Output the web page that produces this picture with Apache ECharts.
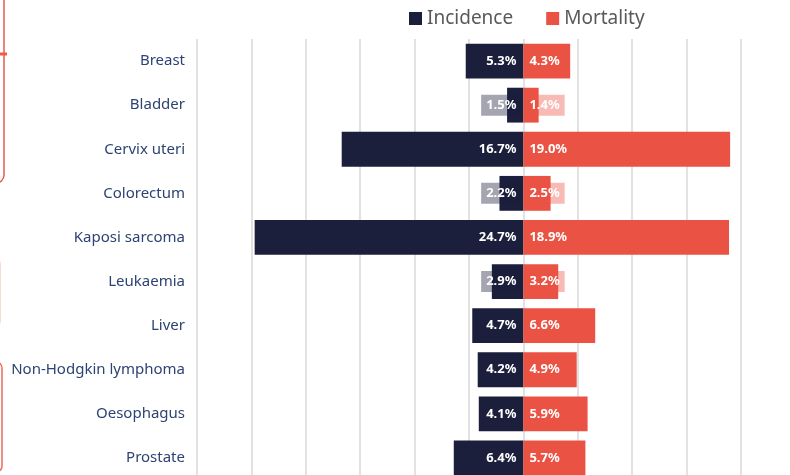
<!DOCTYPE html>
<html>
<head>
<meta charset="utf-8">
<script src="https://cdn.jsdelivr.net/npm/echarts@6/dist/echarts.min.js"></script>
<style>
  html, body { margin: 0; padding: 0; background: #fff; overflow: hidden; }
  /* 图表下方在原图中被裁切, 容器比窗口略高 */
  #chart { width: 790px; height: 480px; }
</style>
</head>
<body>
<div id="chart"></div>
<script>
// 癌症类别
const categories = ['Breast', 'Bladder', 'Cervix uteri', 'Colorectum', 'Kaposi sarcoma',
  'Leukaemia', 'Liver', 'Non-Hodgkin lymphoma', 'Oesophagus', 'Prostate']
// 发病率 / 死亡率 (%)
const incidence = [5.3, 1.5, 16.7, 2.2, 24.7, 2.9, 4.7, 4.2, 4.1, 6.4]
const mortality = [4.3, 1.4, 19.0, 2.5, 18.9, 3.2, 6.6, 4.9, 5.9, 5.7]
const seriesNames = ['Incidence', 'Mortality']

const navy = '#1b1f3b'
const red = '#ea5243'
const font = 'Noto Sans'

// 数值太小时标签放在半透明底框里
const boxed = v => v < 4

const chart = echarts.init(document.getElementById('chart'))
chart.setOption({
  animation: false,
  textStyle: { fontFamily: font },
  legend: {
    data: seriesNames,
    left: 404,
    top: 4,
    icon: 'rect',
    itemWidth: 13,
    itemHeight: 13,
    itemGap: 33,
    textStyle: { fontSize: 19, color: '#595959', fontFamily: font }
  },
  grid: { left: 197, right: 49, top: 39, bottom: 0 },
  xAxis: {
    type: 'value',
    min: -30,
    max: 20,
    interval: 5,
    axisLabel: { show: false },
    axisLine: { show: false },
    axisTick: { show: false },
    splitLine: { lineStyle: { color: '#d9d9d9', width: 1.5 } }
  },
  yAxis: {
    type: 'category',
    data: categories,
    inverse: true,
    axisLine: { show: false },
    axisTick: { show: false },
    axisLabel: { fontSize: 15, color: '#2d4374', margin: 12, fontFamily: font }
  },
  series: [
    {
      name: 'Incidence',
      type: 'bar',
      stack: 'all',
      barWidth: '79%',
      itemStyle: { color: navy },
      data: incidence.map(v => ({
        value: -v,
        label: { backgroundColor: boxed(v) ? 'rgba(27,31,59,0.4)' : 'transparent' }
      })),
      label: {
        show: true,
        position: 'insideRight',
        distance: 2,
        padding: [4, 5, 4, 5],
        color: '#fff',
        fontSize: 13,
        fontWeight: 'bold',
        fontFamily: font,
        formatter: p => (-p.value).toFixed(1) + '%'
      }
    },
    {
      name: 'Mortality',
      type: 'bar',
      stack: 'all',
      barWidth: '79%',
      itemStyle: { color: red },
      data: mortality.map(v => ({
        value: v,
        label: { backgroundColor: boxed(v) ? 'rgba(234,82,67,0.4)' : 'transparent' }
      })),
      label: {
        show: true,
        position: 'insideLeft',
        distance: 1,
        padding: [4, 5, 4, 5],
        color: '#fff',
        fontSize: 13,
        fontWeight: 'bold',
        fontFamily: font,
        formatter: p => p.value.toFixed(1) + '%'
      }
    }
  ],
  // 左侧被裁切的装饰框
  graphic: [
    { type: 'rect', shape: { x: -200, y: -20, width: 204, height: 203, r: 8 },
      style: { fill: 'none', stroke: '#ec5a4b', lineWidth: 1.5 } },
    { type: 'line', shape: { x1: 0, y1: 54, x2: 7, y2: 54 },
      style: { stroke: '#ec5a4b', lineWidth: 3 } },
    { type: 'rect', shape: { x: -200, y: 258, width: 200, height: 69, r: 6 },
      style: { fill: 'none', stroke: '#f8cfc9', lineWidth: 1.5 } },
    { type: 'rect', shape: { x: -200, y: 362, width: 202, height: 110, r: 6 },
      style: { fill: 'none', stroke: '#ec6a5c', lineWidth: 1.5 } }
  ]
})
</script>
</body>
</html>
